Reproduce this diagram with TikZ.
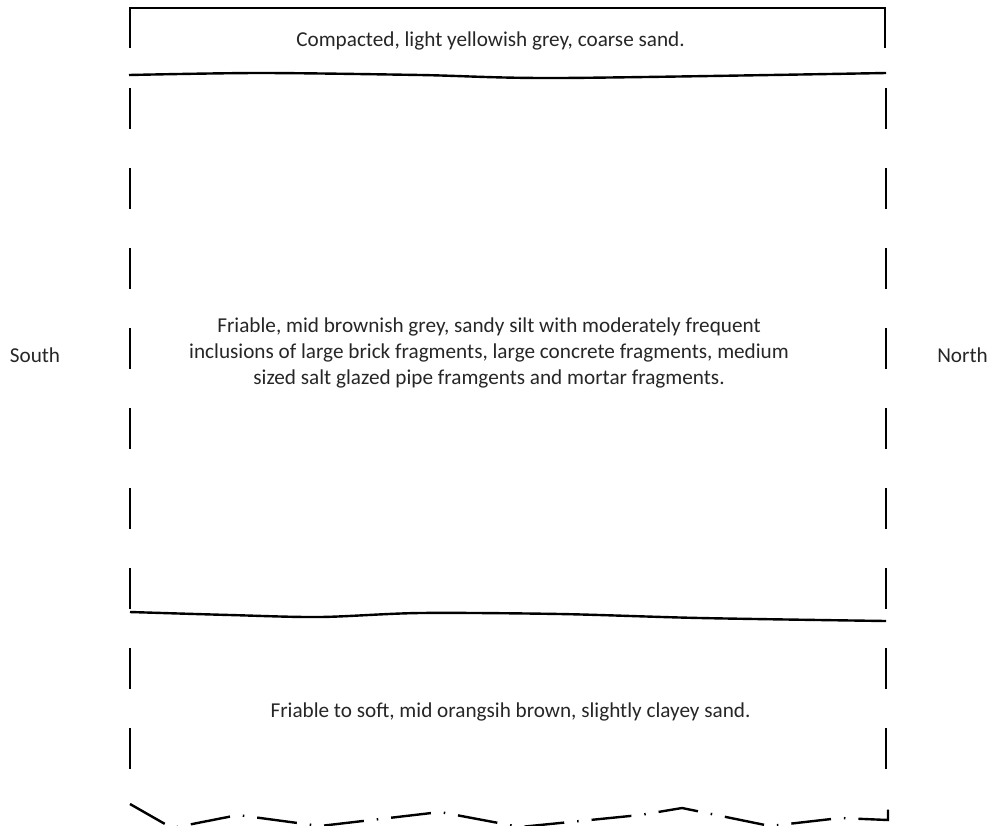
\documentclass[tikz,border=0pt]{standalone}
\usepackage{fontspec}
\setmainfont{Carlito}
\begin{document}
\begin{tikzpicture}[x=1pt,y=-1pt,
  edge/.style={line width=2.4pt, line join=miter, line cap=butt},
  dashedge/.style={edge, dash pattern=on 41pt off 39pt},
  dashdot/.style={edge, dash pattern=on 40pt off 13pt on 1.5pt off 13pt},
  lbl/.style={font=\fontsize{21.2}{25.6}\selectfont, text=black!85, inner sep=0pt, align=center}]
\useasboundingbox (0,0) rectangle (992,825);
\clip (0,0) rectangle (992,825);
% top layer
\draw[edge] (130,48) -- (130,8) -- (885,8) -- (885,48);
\draw[edge] plot[smooth, tension=0.5] coordinates {(129,75) (260,73) (420,75) (560,78) (886,73)};
% middle layer sides
\draw[dashedge] (130,88) -- (130,612);
\draw[dashedge] (886,88) -- (886,621);
\draw[edge] plot[smooth, tension=0.5] coordinates {(130,612) (230,615) (320,617) (420,613) (560,614) (700,618) (886,621)};
% bottom layer sides
\draw[dashedge] (130,648) -- (130,775);
\draw[dashedge] (886,648) -- (886,775);
% bottom broken edge
\draw[dashdot] (130,804) -- (172,828) -- (238,815) -- (320,826) -- (440,812) -- (520,827) -- (640,815) -- (682,808) -- (770,826) -- (840,818) -- (888,820) -- (888,808);
% labels
\node[lbl, anchor=base] (top) at (490.5,46.5) {Compacted, light yellowish grey, coarse sand.};
\node[lbl, anchor=base] (mid) at (489,384) {Friable, mid brownish grey, sandy silt with moderately frequent\\inclusions of large brick fragments, large concrete fragments, medium\\sized salt glazed pipe framgents and mortar fragments.};
\node[lbl, anchor=base] (bot) at (510.5,717) {Friable to soft, mid orangsih brown, slightly clayey sand.};
\node[lbl, anchor=base] (south) at (35,362) {South};
\node[lbl, anchor=base] (north) at (962.5,362) {North};
\end{tikzpicture}
\end{document}
